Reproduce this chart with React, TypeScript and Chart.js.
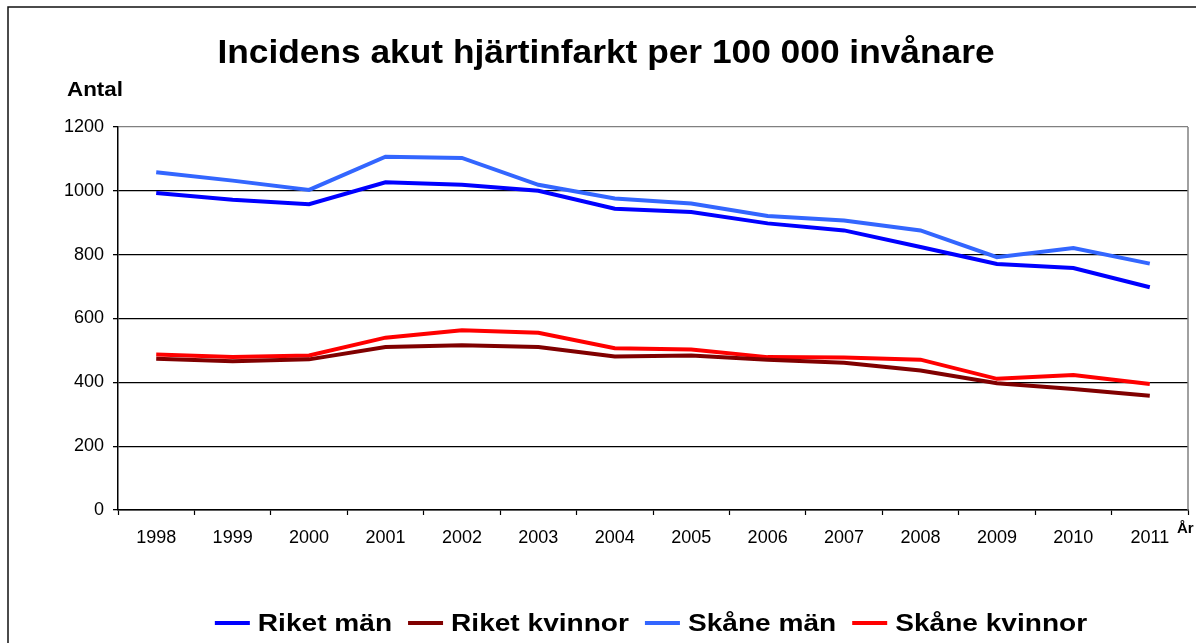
import React, { useEffect, useRef } from "react";
import { Chart, registerables } from "chart.js";

Chart.register(...registerables);

const years = ["1998", "1999", "2000", "2001", "2002", "2003", "2004", "2005", "2006", "2007", "2008", "2009", "2010", "2011"];
const riketMan = [993, 972, 958, 1027, 1019, 1000, 944, 934, 898, 876, 824, 771, 758, 698];
const riketKvinnor = [474, 466, 472, 511, 516, 511, 481, 484, 471, 461, 437, 397, 379, 358];
const skaneMan = [1058, 1032, 1003, 1107, 1103, 1019, 976, 960, 921, 907, 876, 792, 821, 772];
const skaneKvinnor = [487, 479, 484, 540, 563, 555, 507, 503, 479, 478, 471, 411, 423, 395];

const seriesNames = ["Riket män", "Riket kvinnor", "Skåne män", "Skåne kvinnor"];
const seriesColors = ["#0000FF", "#800000", "#3366FF", "#FF0000"];

const titleText = "Incidens akut hjärtinfarkt per 100 000 invånare";
const yTitle = "Antal";
const xTitle = "År";

const FAMILY = '"Liberation Sans", Arial, sans-serif';

function drawText(ctx: CanvasRenderingContext2D, text: string, x: number, y: number, font: string, hscale: number, align: "left" | "center") {
  ctx.save();
  ctx.font = font;
  ctx.textBaseline = "alphabetic";
  ctx.textAlign = "left";
  const w = ctx.measureText(text).width * hscale;
  const left = align === "center" ? x - w / 2 : x;
  ctx.translate(left, y);
  ctx.scale(hscale, 1);
  ctx.fillStyle = "#000";
  ctx.fillText(text, 0, 0);
  ctx.restore();
  return w;
}

const decorPlugin = {
  id: "decor",
  afterDraw(chart: any) {
    const ctx: CanvasRenderingContext2D = chart.ctx;
    const area = chart.chartArea;
    ctx.save();
    // outer frame
    ctx.strokeStyle = "#111";
    ctx.lineWidth = 1.5;
    ctx.beginPath();
    ctx.moveTo(8, 643);
    ctx.lineTo(8, 7);
    ctx.lineTo(1196, 7);
    ctx.stroke();
    // plot right border
    ctx.strokeStyle = "#808080";
    ctx.lineWidth = 1.5;
    ctx.beginPath();
    ctx.moveTo(area.right, area.top);
    ctx.lineTo(area.right, area.bottom);
    ctx.stroke();
    ctx.restore();

    // title
    drawText(ctx, titleText, 606, 63, `bold 33px ${FAMILY}`, 1.07, "center");
    // axis titles
    drawText(ctx, yTitle, 67, 96, `bold 20px ${FAMILY}`, 1.12, "left");
    drawText(ctx, xTitle, 1177, 533, `bold 15px ${FAMILY}`, 1.0, "left");

    // legend
    const font = `bold 24px ${FAMILY}`;
    const hs = 1.17;
    const lineW = 35;
    const gap = 8;
    const itemGap = 16;
    ctx.save();
    ctx.font = font;
    const widths = seriesNames.map((n) => ctx.measureText(n).width * hs);
    ctx.restore();
    const total = widths.reduce((a, w) => a + lineW + gap + w, 0) + itemGap * (seriesNames.length - 1);
    let x = 651 - total / 2;
    const ly = 623;
    seriesNames.forEach((n, i) => {
      ctx.save();
      ctx.strokeStyle = seriesColors[i];
      ctx.lineWidth = 4;
      ctx.beginPath();
      ctx.moveTo(x, ly);
      ctx.lineTo(x + lineW, ly);
      ctx.stroke();
      ctx.restore();
      drawText(ctx, n, x + lineW + gap, 631, font, hs, "left");
      x += lineW + gap + widths[i] + itemGap;
    });
  },
};

export default function App() {
  const ref = useRef<HTMLCanvasElement | null>(null);
  useEffect(() => {
    if (!ref.current) return;
    Chart.defaults.font.family = FAMILY;
    const data = [riketMan, riketKvinnor, skaneMan, skaneKvinnor];
    const chart = new Chart(ref.current, {
      type: "line",
      data: {
        labels: years,
        datasets: seriesNames.map((name, i) => ({
          label: name,
          data: data[i],
          borderColor: seriesColors[i],
          backgroundColor: seriesColors[i],
          borderWidth: 4,
          pointRadius: 0,
          tension: 0,
          fill: false,
        })),
      },
      options: {
        responsive: false,
        animation: false,
        devicePixelRatio: 1,
        layout: { padding: { left: 0, right: 8, top: 127, bottom: 0 } },
        plugins: {
          legend: { display: false },
          title: { display: false },
          tooltip: { enabled: false },
        },
        scales: {
          x: {
            offset: true,
            grid: {
              offset: true,
              drawOnChartArea: false,
              drawTicks: true,
              tickLength: 5,
              tickColor: "#000",
              tickWidth: 1.2,
            },
            border: { display: true, color: "#000", width: 1.5 },
            ticks: { color: "#000", font: { size: 18 }, padding: 12, maxRotation: 0, autoSkip: false },
            afterFit: (s: any) => {
              s.height = 133;
            },
          },
          y: {
            min: 0,
            max: 1200,
            ticks: {
              stepSize: 200,
              color: "#000",
              font: { size: 18 },
              padding: 9,
              callback: (v: any) => String(v),
            },
            grid: {
              color: (c: any) => (c.tick && c.tick.value === 1200 ? "#808080" : "#000"),
              lineWidth: 1.3,
              tickLength: 5,
              tickColor: "#000",
            },
            border: { display: true, color: "#000", width: 1.5 },
            afterFit: (s: any) => {
              s.width = 118;
            },
          },
        },
      },
      plugins: [decorPlugin],
    });
    return () => chart.destroy();
  }, []);
  return (
    <div style={{ position: "absolute", left: 0, top: 0, width: 1196, height: 643, background: "#fff" }}>
      <canvas ref={ref} width={1196} height={643} style={{ display: "block" }} />
    </div>
  );
}
